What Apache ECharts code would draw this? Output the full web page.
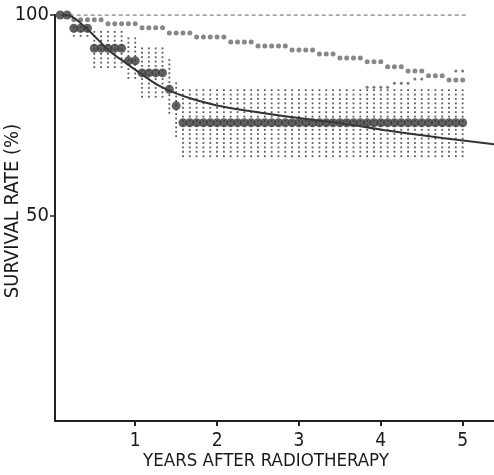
<!DOCTYPE html>
<html><head><meta charset="utf-8">
<script src="https://cdn.jsdelivr.net/npm/echarts@6/dist/echarts.min.js"></script>
<style>html,body{margin:0;padding:0;background:#fff}#c{width:494px;height:475px}</style>
</head><body><div id="c"></div>
<script>
// month index 1..60 (x = month / 12 years)
const months = [1,2,3,4,5,6,7,8,9,10,11,12,13,14,15,16,17,18,19,20,21,22,23,24,25,26,27,28,29,30,
  31,32,33,34,35,36,37,38,39,40,41,42,43,44,45,46,47,48,49,50,51,52,53,54,55,56,57,58,59,60];

// observed survival (large dots)
const observed = [100,100,96.7,96.7,96.7,91.7,91.7,91.7,91.7,91.7,88.6,88.6,85.6,85.6,85.6,85.6,81.5,77.4,
  73.2,73.2,73.2,73.2,73.2,73.2,73.2,73.2,73.2,73.2,73.2,73.2,73.2,73.2,73.2,73.2,73.2,73.2,73.2,73.2,73.2,73.2,
  73.2,73.2,73.2,73.2,73.2,73.2,73.2,73.2,73.2,73.2,73.2,73.2,73.2,73.2,73.2,73.2,73.2,73.2,73.2,73.2];

// upper reference survival (small circles)
const reference = [null,null,98.8,98.8,98.8,98.8,98.8,97.8,97.8,97.8,97.8,97.8,96.8,96.8,96.8,96.8,95.5,95.5,95.5,95.5,
  94.5,94.5,94.5,94.5,94.5,93.3,93.3,93.3,93.3,92.3,92.3,92.3,92.3,92.3,91.3,91.3,91.3,91.3,90.3,90.3,
  90.3,89.3,89.3,89.3,89.3,88.4,88.4,88.4,87.1,87.1,87.1,86.1,86.1,86.1,84.9,84.9,84.9,83.8,83.8,83.8];

// secondary small-dot points near the reference curve
const referenceB = [null,null,null,null,null,null,null,null,null,null,null,null,null,null,null,null,null,null,null,null,
  null,null,null,null,null,null,null,null,null,null,null,null,null,null,null,null,null,null,null,null,
  null,null,null,null,null,82.0,82.0,82.0,82.0,83.0,83.0,83.0,84.1,84.1,null,null,null,null,86.1,86.1];

// dotted confidence band (low / high) per month
const bandLow = [null,null,94.8,94.8,94.8,86.3,86.3,86.3,86.3,86.3,83.4,83.4,79.7,79.7,79.7,79.7,74.7,69.4,
  64,64,64,64,64,64,64,64,64,64,64,64,64,64,64,64,64,64,64,64,64,64,
  64,64,64,64,64,64,64,64,64,64,64,64,64,64,64,64,64,64,64,64];
const bandHigh = [null,null,97,97,97,95.8,95.8,95.8,95.8,95.8,94.2,94.2,91.7,91.7,91.7,91.7,88.8,83.0,
  81.3,81.3,81.3,81.3,81.3,81.3,81.3,81.3,81.3,81.3,81.3,81.3,81.3,81.3,81.3,81.3,81.3,81.3,81.3,81.3,81.3,81.3,
  81.3,81.3,81.3,81.3,81.3,81.3,81.3,81.3,81.3,81.3,81.3,81.3,81.3,81.3,81.3,81.3,81.3,81.3,81.3,81.3];

// fitted smooth curve
const curveX = [0.1,0.2,0.32,0.47,0.69,0.89,1.09,1.29,1.5,1.7,2.0,2.4,2.9,3.5,4.1,4.75,5.4];
const curveY = [100,99.8,98.2,95.4,91.0,88.0,85.1,82.4,80.5,79.1,77.5,76.1,74.6,73.1,71.2,69.4,67.8];

// dashed 100% line
const dashX = [0.2, 5.05];
const dashY = [100, 100];

const xTicks = [1,2,3,4,5];
const yTicks = [50,100];

const FONT = "'DejaVu Sans Condensed','Liberation Sans Narrow',sans-serif";

const toYear = m => m / 12;
const obsData = months.map((m,i)=>[toYear(m), observed[i]]);
const refData = months.map((m,i)=>reference[i]==null?null:[toYear(m), reference[i]]).filter(Boolean);
const refBData = months.map((m,i)=>referenceB[i]==null?null:[toYear(m), referenceB[i]]).filter(Boolean);
const bandData = months.map((m,i)=>bandLow[i]==null?null:[toYear(m), bandLow[i], bandHigh[i]]).filter(Boolean);
const curveData = curveX.map((x,i)=>[x, curveY[i]]);
const dashData = dashX.map((x,i)=>[x, dashY[i]]);

const chart = echarts.init(document.getElementById('c'), null, {renderer:'canvas'});
chart.setOption({
  animation: false,
  backgroundColor: '#fff',
  grid: {left:55, right:0, top:15, bottom:54, containLabel:false, outerBoundsMode:'none'},
  xAxis: {
    type:'value', min:0.02, max:5.383,
    splitLine:{show:false},
    axisLine:{show:true, onZero:false, lineStyle:{color:'#222', width:2}},
    axisTick:{show:true, customValues:xTicks, length:5, inside:false, lineStyle:{color:'#222', width:2}},
    axisLabel:{customValues:xTicks, color:'#1a1a1a', fontSize:19, fontFamily:FONT, margin:11},
    name:'YEARS AFTER RADIOTHERAPY', nameLocation:'middle', nameGap:31, nameMoveOverlap:false,
    nameTextStyle:{color:'#1a1a1a', fontSize:18.5, fontFamily:FONT, padding:[0,17,0,0]}
  },
  yAxis: {
    type:'value', min:-1, max:100,
    splitLine:{show:false},
    axisLine:{show:true, onZero:false, lineStyle:{color:'#222', width:2}},
    axisTick:{show:true, customValues:yTicks, length:5, lineStyle:{color:'#222', width:1.5}},
    axisLabel:{customValues:yTicks, color:'#1a1a1a', fontSize:20, fontFamily:FONT, margin:6},
    name:'SURVIVAL RATE (%)', nameLocation:'middle', nameGap:32, nameMoveOverlap:false,
    nameTextStyle:{color:'#1a1a1a', fontSize:20, fontFamily:FONT, padding:[0,0,0,14]}
  },
  series: [
    {
      type:'custom', z:1, silent:true,
      data: bandData,
      encode:{x:0, y:[1,2]},
      renderItem: function(params, api){
        const x = api.value(0), lo = api.value(1), hi = api.value(2);
        const top = api.coord([x, hi]), bot = api.coord([x, lo]);
        const children = [];
        for (let y = top[1]; y <= bot[1] + 0.5; y += 4.4) {
          children.push({type:'rect', shape:{x: top[0]-0.9, y: y-0.9, width:1.8, height:1.8}, style:{fill:'#5a5a5a'}});
        }
        return {type:'group', children};
      }
    },
    {
      type:'line', data:dashData, z:2, symbol:'none', silent:true,
      lineStyle:{color:'#888', width:1.5, type:[4,3]}
    },
    {
      type:'scatter', data:refData, z:3, symbol:'circle', symbolSize:5,
      itemStyle:{color:'#6a6a6a'}
    },
    {
      type:'scatter', data:refBData, z:3, symbol:'circle', symbolSize:3,
      itemStyle:{color:'#555'}
    },
    {
      type:'line', data:curveData, z:4, smooth:0.35, symbol:'none', silent:true,
      lineStyle:{color:'#333', width:2}
    },
    {
      type:'scatter', data:obsData, z:5, symbol:'circle', symbolSize:9,
      itemStyle:{color:'#3b3b3b'}
    }
  ]
});
</script>
</body></html>
